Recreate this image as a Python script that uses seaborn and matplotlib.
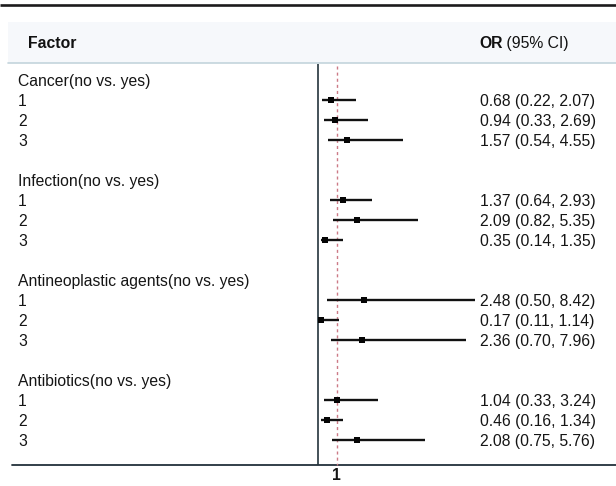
import matplotlib
matplotlib.use("Agg")
import matplotlib.pyplot as plt
import matplotlib.transforms as mtransforms
import numpy as np
import pandas as pd
import seaborn as sns

# Forest plot data: odds ratios with 95% confidence intervals
groups = ["Cancer(no vs. yes)", "Infection(no vs. yes)",
          "Antineoplastic agents(no vs. yes)", "Antibiotics(no vs. yes)"]
levels = ["1", "2", "3"]
or_vals = [0.68, 0.94, 1.57, 1.37, 2.09, 0.35, 2.48, 0.17, 2.36, 1.04, 0.46, 2.08]
ci_low = [0.22, 0.33, 0.54, 0.64, 0.82, 0.14, 0.50, 0.11, 0.70, 0.33, 0.16, 0.75]
ci_high = [2.07, 2.69, 4.55, 2.93, 5.35, 1.35, 8.42, 1.14, 7.96, 3.24, 1.34, 5.76]
ref_value = 1

sns.set_theme(style="white")
plt.rcParams["font.family"] = ["Liberation Sans", "DejaVu Sans"]
FS = 11.3

# each group takes a header row, three level rows and a blank spacer row
rows = []
for g in range(len(groups)):
    for k in range(len(levels)):
        rows.append(5 * g + 1 + k)
df = pd.DataFrame({"row": rows, "OR": or_vals, "lo": ci_low, "hi": ci_high})

fig = plt.figure(figsize=(6.16, 4.86), dpi=100)
ax = fig.add_axes([0, 0, 1, 1])

tr = mtransforms.blended_transform_factory(ax.transAxes, ax.transData)

# header band and rules
ax.add_patch(plt.Rectangle((8 / 616, -2.9), 1, 2.05, transform=tr,
                           facecolor="#f6f8fb", edgecolor="none", zorder=0))
ax.plot([0, 1], [-3.75, -3.75], transform=tr, color="#1c1a1c", lw=1.9,
        solid_capstyle="butt")
ax.plot([8 / 616, 1], [-0.85, -0.85], transform=tr, color="#c3d4dc", lw=1.2)
ax.plot([12 / 616, 1], [19.25, 19.25], transform=tr, color="#22303a", lw=1.3)

# header texts
ax.text(28 / 616, -1.9, "Factor", transform=tr, fontsize=FS, fontweight="bold",
        va="center_baseline", ha="left", color="#111111")
t_or = ax.text(479 / 616, -1.9, "OR", transform=tr, fontsize=FS, fontweight="bold",
               va="center_baseline", ha="left", color="#111111")
ax.annotate(" (95% CI)", xy=(1, 0), xycoords=t_or, va="bottom", ha="left",
            fontsize=FS, color="#111111")

# row labels and OR text
for g, name in enumerate(groups):
    ax.text(18 / 616, 5 * g, name, transform=tr, fontsize=FS,
            va="center_baseline", ha="left", color="#151515")
    for k, lev in enumerate(levels):
        ax.text(18 / 616, 5 * g + 1 + k, lev, transform=tr, fontsize=FS,
                va="center_baseline", ha="left", color="#151515")
for r, o, lo, hi in zip(rows, or_vals, ci_low, ci_high):
    ax.text(480 / 616, r, f"{o:.2f} ({lo:.2f}, {hi:.2f})", transform=tr,
            fontsize=FS, va="center_baseline", ha="left", color="#151515")

# axis line at zero and dashed reference line
ax.vlines(0, -0.8, 19.25, color="#24343c", lw=1.2)
ax.vlines(ref_value, -0.7, 19.25, color="#cc7a86", lw=1.0, linestyles=(0, (2.2, 2.2)))
ax.text(ref_value, 19.75, str(ref_value), fontsize=FS, fontweight="bold",
        ha="center", va="center", color="#151515")

# confidence intervals and point estimates
ax.hlines(df["row"], df["lo"], df["hi"], color="#111111", lw=1.7, zorder=3)
sns.scatterplot(data=df, x="OR", y="row", ax=ax, marker="s", s=24,
                color="#050505", linewidth=0, zorder=4, legend=False)
ax.set_xlim(-17.097, 16.022)
ax.set_ylim(20.3, -4)
ax.axis("off")

fig.savefig("out.png", dpi=100)
